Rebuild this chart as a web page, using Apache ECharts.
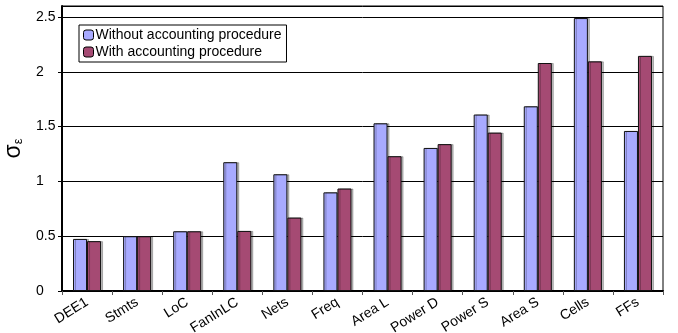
<!DOCTYPE html>
<html><head><meta charset="utf-8">
<script src="https://cdn.jsdelivr.net/npm/echarts@6/dist/echarts.min.js"></script>
<style>html,body{margin:0;padding:0;background:#fff}#c{width:678px;height:333px}</style>
</head><body><div id="c"></div>
<script>
const categories = ['DEE1','Stmts','LoC','FanInLC','Nets','Freq','Area L','Power D','Power S','Area S','Cells','FFs'];
const withoutAcc = [0.475,0.50,0.545,1.175,1.065,0.90,1.53,1.305,1.61,1.685,2.49,1.46];
const withAcc = [0.455,0.50,0.545,0.548,0.67,0.935,1.23,1.34,1.445,2.08,2.095,2.145];
const seriesNames = ['Without accounting procedure','With accounting procedure'];
const yTicks = [0,0.5,1,1.5,2,2.5];

const chart = echarts.init(document.getElementById('c'));
const font = 'Liberation Sans, Arial, sans-serif';
const barStyle = (c) => ({color: c, borderColor: '#111', borderWidth: 1, shadowColor: 'rgba(0,0,0,0.25)', shadowOffsetX: 2, shadowOffsetY: 0, shadowBlur: 0});
chart.setOption({
  animation: false,
  grid: {left: 62, right: 15, top: 6, bottom: 42, show: true, borderColor: '#000', borderWidth: 1, backgroundColor: '#fff', containLabel: false, outerBoundsMode: 'none'},
  legend: {
    orient: 'vertical', left: 79, top: 25, itemGap: 3, itemWidth: 10, itemHeight: 10,
    padding: [3, 5, 3, 4], borderColor: '#000', borderWidth: 1, backgroundColor: '#fff',
    textStyle: {fontFamily: font, fontSize: 14, color: '#000', padding: [0,0,0,-3]},
    data: seriesNames.map(n => ({name: n, itemStyle: {borderColor: '#000', borderWidth: 1}}))
  },
  xAxis: {
    type: 'category', data: categories,
    axisLine: {lineStyle: {color: '#000', width: 2}},
    axisTick: {show: true, length: 4, lineStyle: {color: '#555'}},
    axisLabel: {rotate: 32, fontFamily: font, fontSize: 14, color: '#000', margin: 10}
  },
  yAxis: {
    type: 'value', min: 0, max: 2.6, interval: 0.5,
    name: '{a|σ}{b|ε}', nameLocation: 'middle', nameGap: 37, nameRotate: 90,
    nameTextStyle: {rich: {a: {fontSize: 23, fontFamily: font, color: '#000'}, b: {fontSize: 13, fontFamily: font, color: '#000', padding: [10,0,0,0]}}},
    axisLine: {show: true, lineStyle: {color: '#000', width: 2}},
    axisTick: {show: true, length: 4, lineStyle: {color: '#000'}},
    axisLabel: {fontFamily: font, fontSize: 14, color: '#000', align: 'left', margin: 26, showMaxLabel: false,
      formatter: v => yTicks.indexOf(v) >= 0 ? String(v) : ''},
    splitLine: {lineStyle: {color: '#000', width: 1}}
  },
  series: [
    {name: seriesNames[0], type: 'bar', data: withoutAcc, barGap: '0%', barCategoryGap: '44%', itemStyle: barStyle('#a8aaff')},
    {name: seriesNames[1], type: 'bar', data: withAcc, barGap: '0%', barCategoryGap: '44%', itemStyle: barStyle('#a54a73')}
  ]
});
</script></body></html>
